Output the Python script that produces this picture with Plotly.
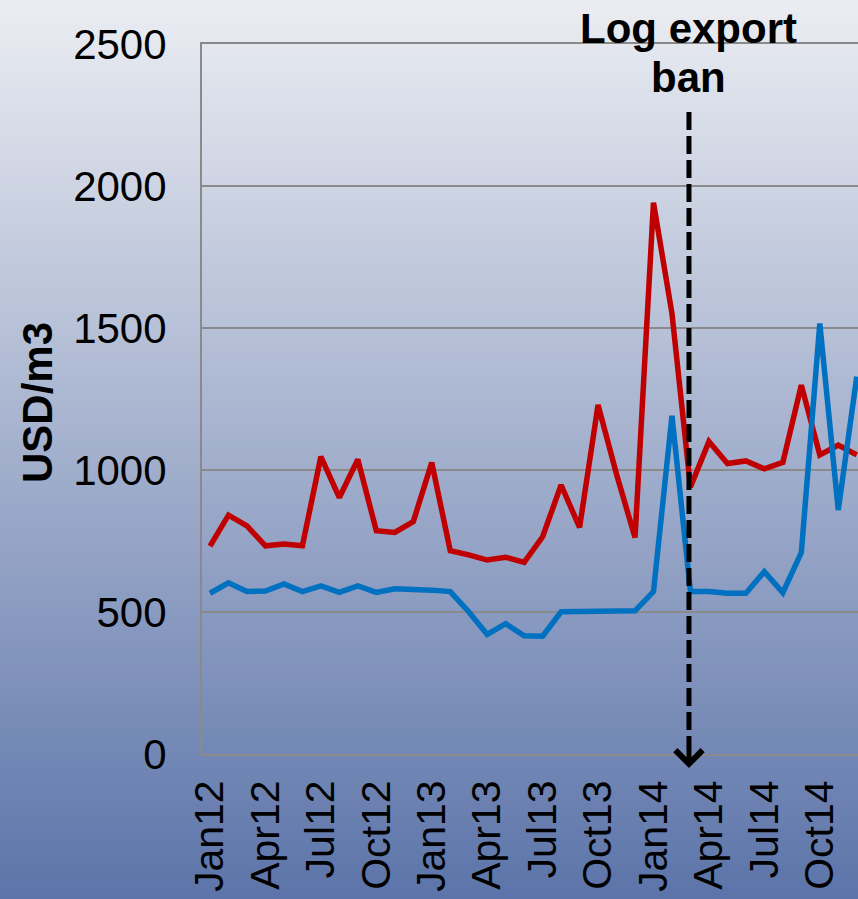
import plotly.graph_objects as go

# ---- data ----
months = [f"{m}{y}" for y in ("12", "13", "14") for m in
          ("Jan", "Feb", "Mar", "Apr", "May", "Jun", "Jul", "Aug", "Sep", "Oct", "Nov", "Dec")]
red_values = [732, 841, 803, 733, 739, 733, 1047, 903, 1037, 786, 780, 818,
              1026, 716, 701, 683, 693, 675, 765, 947, 798, 1229, 985, 762,
              1941, 1551, 940, 1100, 1023, 1032, 1004, 1027, 1299, 1053, 1088, 1053]
blue_values = [566, 603, 572, 574, 599, 572, 592, 569, 592, 569, 582, 581,
               577, 572, 501, 421, 459, 416, 415, 501, 501, 502, 503, 504,
               572, 1191, 572, 572, 566, 566, 642, 568, 709, 1516, 859, 1329]
tick_labels = months[::3]
y_ticks = [0, 500, 1000, 1500, 2000, 2500]
ban_position = 25.92        # between Feb14 and Mar14 (category index)
ban_label_1 = "Log export"
ban_label_2 = "ban"
y_title = "USD/m3"

# ---- geometry ----
W, H = 858, 899
ML, MR, MT, MB = 202, 0, 44, 145
PW, PH = W - ML - MR, H - MT - MB
XMIN, XMAX = -0.433, 35.067
YMIN, YMAX = 0, 2500
FONT = "Liberation Sans, Arial, sans-serif"


def xp(v):
    return (v - XMIN) / (XMAX - XMIN)


def yp_px(py):
    return (H - MB - py) / PH


fig = go.Figure()
fig.add_trace(go.Scatter(x=months, y=red_values, mode="lines",
                         line=dict(color="#c00000", width=5.5), showlegend=False))
fig.add_trace(go.Scatter(x=months, y=blue_values, mode="lines",
                         line=dict(color="#0070c0", width=5.5), showlegend=False))

shapes = []
# gradient background
top_c = (235, 237, 242)
bot_c = (92, 116, 169)
step = 6
for p in range(0, H, step):
    t = (p + step / 2) / H
    c = tuple(round(top_c[i] + (bot_c[i] - top_c[i]) * t) for i in range(3))
    shapes.append(dict(type="rect", xref="paper", yref="paper", layer="below",
                       x0=-ML / PW - 0.02, x1=1.02,
                       y0=yp_px(p + step + 0.5), y1=yp_px(p - 0.5),
                       fillcolor=f"rgb{c}", line=dict(width=0)))
# dashed ban line
shapes.append(dict(type="line", xref="paper", yref="paper",
                   x0=xp(ban_position), x1=xp(ban_position),
                   y0=yp_px(112), y1=yp_px(746),
                   line=dict(color="black", width=5, dash="18px,6px")))

annotations = [
    dict(xref="paper", yref="paper", x=xp(ban_position), y=yp_px(768),
         ax=0, ay=-24, text="", showarrow=True, arrowhead=4, arrowsize=1.05,
         arrowwidth=5, arrowcolor="black", standoff=0),
    dict(xref="paper", yref="paper", x=xp(ban_position), y=yp_px(28.5),
         text=f"<b>{ban_label_1}</b>", showarrow=False, xanchor="center",
         yanchor="middle", font=dict(family=FONT, size=42, color="black")),
    dict(xref="paper", yref="paper", x=xp(ban_position), y=yp_px(77.5),
         text=f"<b>{ban_label_2}</b>", showarrow=False, xanchor="center",
         yanchor="middle", font=dict(family=FONT, size=42, color="black")),
    dict(xref="paper", yref="paper", x=(37 - ML) / PW, y=yp_px(403),
         text=f"<b>{y_title}</b>", textangle=-90, showarrow=False,
         xanchor="center", yanchor="middle",
         font=dict(family=FONT, size=42, color="black")),
]

fig.update_layout(
    width=W, height=H, autosize=False,
    margin=dict(l=ML, r=MR, t=MT, b=MB, pad=0, autoexpand=False),
    paper_bgcolor="rgb(235,237,242)", plot_bgcolor="rgba(0,0,0,0)",
    font=dict(family=FONT, color="black"),
    shapes=shapes, annotations=annotations,
    xaxis=dict(type="category", categoryorder="array", categoryarray=months,
               range=[XMIN, XMAX], tickvals=tick_labels, ticktext=tick_labels,
               tickangle=-90, tickfont=dict(family=FONT, size=41, color="black"),
               showgrid=False, showline=True, mirror=True,
               linecolor="#8a8a8a", linewidth=2,
               ticks="", ticklabelstandoff=8, zeroline=False, automargin=False),
    yaxis=dict(range=[YMIN, YMAX], tickvals=y_ticks,
               tickfont=dict(family=FONT, size=42, color="black"),
               showgrid=True, gridcolor="#8a8a8a", gridwidth=2,
               showline=True, linecolor="#8a8a8a", linewidth=2,
               zeroline=False, ticks="", ticklabelstandoff=25, automargin=False),
)

fig.write_html("out.html",
               config={"displayModeBar": False},
               post_script="document.body.style.margin='0';"
                           "document.documentElement.style.overflow='hidden';")
